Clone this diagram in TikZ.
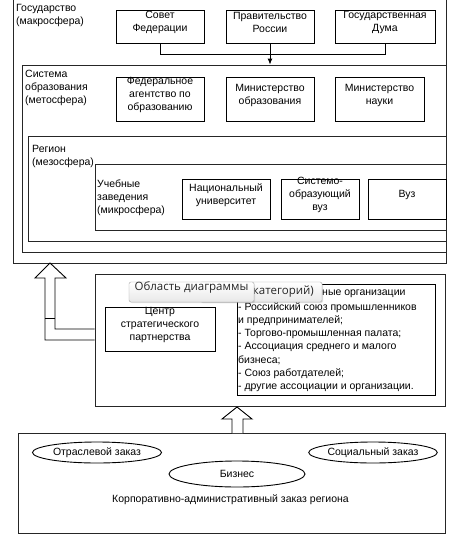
\documentclass[tikz,border=0pt]{standalone}
\usepackage{fontspec}
\setmainfont{Liberation Sans}
\newfontfamily\tipfont{Open Sans}
\usetikzlibrary{fit,shapes.geometric,shadows,arrows.meta}
\newcommand\dfs{\fontsize{10.5}{13}\selectfont}
\newcommand\tfs{\tipfont\fontsize{11.5}{13}\selectfont}
\begin{document}
\begin{tikzpicture}[x=1pt,y=-1pt,
  box/.style={draw=black, line width=0.9pt, inner sep=0pt, align=center, font=\dfs},
  frame/.style={draw=black!85, line width=0.9pt, inner sep=0pt},
  lbl/.style={inner sep=0pt, anchor=north west, align=left, font=\dfs},
  oval/.style={draw=black, ellipse, inner sep=0pt, line width=0.9pt, font=\dfs},
  conn/.style={draw=black, line width=0.9pt},
  hollow/.style={draw=black, line width=0.9pt, fill=white, line join=miter},
  tip/.style={draw=gray!70, rounded corners=2pt, inner sep=0pt, top color=white, bottom color=gray!18,
              drop shadow={opacity=0.25, shadow xshift=1pt, shadow yshift=-1pt}, font=\tfs, text=black!85}]
\useasboundingbox (0,0) rectangle (461,539);
\fill[white] (0,0) rectangle (461,539);

% ---- Государство
\node[frame, fit={(13,-2)(446,263)}] (gos) {};
\node[lbl] (gosl) at (16,4) {Государство\\(макросфера)};
\node[box, fit={(116,10)(204,43)}] (sf) {Совет\\Федерации};
\node[box, fit={(226,10)(314,43)}] (pr) {Правительство\\России};
\node[box, fit={(335,10)(435,43)}] (gd) {Государственная\\Дума};

% ---- Система образования
\node[frame, fit={(22,65)(446,252)}] (sys) {};
\node[lbl] (sysl) at (25,70) {Система\\образования\\(метосфера)};
\node[box, fit={(116,77)(204,121)}] (fa) {Федеральное\\агентство по\\образованию};
\node[box, fit={(226,77)(314,121)}] (mo) {Министерство\\образования};
\node[box, fit={(335,77)(424,121)}] (mn) {Министерство\\науки};

\draw[conn] (sf.south) -- ++(0,11) -| (gd.south);
\draw[conn, -{Latex[length=6pt,width=5pt]}] (pr.south) -- (pr.south |- sys.north);

% ---- Регион
\node[frame, fit={(28,136)(446,241)}] (reg) {};
\node[lbl] (regl) at (32,145) {Регион\\(мезосфера)};
\node[frame, fit={(95,164)(446,230)}] (mic) {};
\node[lbl] (micl) at (97,180) {Учебные\\заведения\\(микросфера)};
\node[box, fit={(182,179)(270,219)}] (nu) {Национальный\\университет};
\node[box, fit={(281,179)(359,219)}] (sv) {Системо-\\образующий\\вуз};
\node[box, fit={(368,179)(446,219)}] (vuz) {Вуз};

% ---- Middle box
\node[frame, fit={(95,274)(445,406)}] (mid) {};
\node[box, fit={(105,307)(215,351)}] (csp) {Центр\\стратегического\\партнерства};
\node[box, fit={(237,284)(435,395)}] (org) {};
\node[inner sep=0pt, font=\dfs] (orgt) at (336,293) {Общественные организации};
\node[lbl, font=\fontsize{10.5}{13.3}\selectfont] (orgl) at (238,302) {- Российский союз промышленников\\и предпринимателей;\\- Торгово-промышленная палата;\\- Ассоциация среднего и малого\\бизнеса;\\- Союз работдателей;\\- другие ассоциации и организации.};

% hollow arrow left
\coordinate (a1) at (mid.west |- 0,340);
\coordinate (a2) at (mid.west |- 0,329);
\draw[hollow] (a1) -- (45,340) -- (45,278) -- (35,278) -- (50,263) -- (66,278) -- (55,278) -- (55,329) -- (a2);
\draw[conn] (45,318) -- (55,318);

% ---- Bottom box
\node[frame, fit={(18,433)(445,533)}] (bot) {};
\node[oval, minimum width=129pt, minimum height=21pt] (otr) at (97,452.5) {Отраслевой заказ};
\node[oval, minimum width=128pt, minimum height=21pt] (soc) at (373,452.5) {Социальный заказ};
\node[oval, minimum width=136pt, minimum height=26pt] (biz) at (237,474) {Бизнес};
\node[inner sep=0pt, font=\dfs] (kor) at (230.5,500) {Корпоративно-административный заказ региона};

% hollow arrow bottom
\draw[hollow] (232,433) -- (232,419) -- (222,419) -- (237,407) -- (252,419) -- (243,419) -- (243,433);

% ---- tooltip overlay
\node[tip, fit={(200,282)(322,302)}] (tipb) {};
\node[inner sep=0pt, anchor=east, font=\tfs, text=black!85] (tipbt) at (314,292) {(категорий)};
\node[tip, fit={(129,282)(254,302)}] (tipa) {Область диаграммы};
\end{tikzpicture}
\end{document}
